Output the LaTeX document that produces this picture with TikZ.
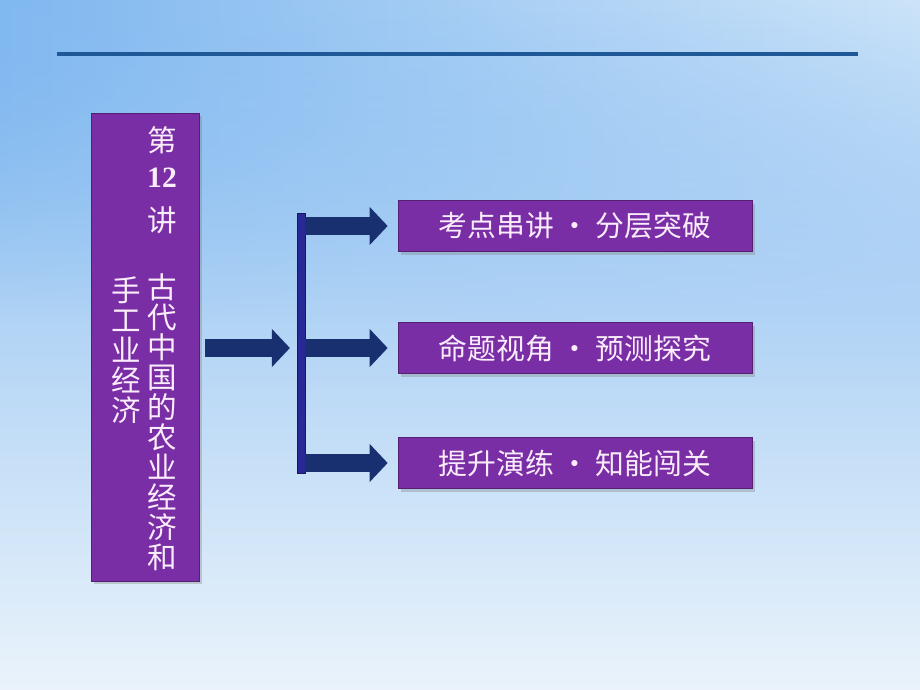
\documentclass[tikz,border=0pt]{standalone}
\usepackage{fontspec}
\usepackage{xcolor}
\usetikzlibrary{arrows.meta, positioning, shadows, fadings}
\newfontfamily\cjk{Noto Sans CJK SC}
\newfontfamily\numfont{Liberation Serif}
\definecolor{bgtop}{RGB}{128,184,240}
\definecolor{bgmid}{RGB}{205,228,249}
\definecolor{bgbot}{RGB}{234,243,251}
\definecolor{rulecol}{RGB}{30,88,150}
\definecolor{boxpurple}{RGB}{122,46,166}
\definecolor{boxtext}{RGB}{250,236,250}
\definecolor{arrownavy}{RGB}{24,48,112}
\definecolor{barblue}{RGB}{40,40,150}
\tikzstyle{titlebox} = [rectangle, minimum width=2.7cm, minimum height=11.7cm,
                        draw=boxpurple!70!black, fill=boxpurple, drop shadow={opacity=0.35}]
\tikzstyle{topicbox} = [rectangle, minimum width=8.85cm, minimum height=1.275cm,
                        draw=boxpurple!70!black, fill=boxpurple, text=boxtext,
                        font=\cjk\fontsize{20.5}{24}\selectfont, drop shadow={opacity=0.35}]
\tikzstyle{vtext}    = [text=boxtext, align=center, inner sep=0pt,
                        font=\cjk\fontsize{21}{21.3}\selectfont]
\tikzstyle{arrow}    = [-{Triangle[width=0.925cm, length=0.45cm]}, line width=0.45cm, arrownavy]

\begin{document}
\begin{tikzpicture}[x=0.025cm, y=-0.025cm]
    % Background
    \useasboundingbox (0,0) rectangle (920,690);
    \shade[top color=bgtop, middle color=bgmid, bottom color=bgbot] (0,0) rectangle (920,690);
    \shade[left color=bgtop, right color=bgmid, path fading=south] (0,0) rectangle (920,320);
    \draw[rulecol, line width=0.08cm] (57,54) -- (858,54);

    % Title box (left)
    \node (title) [titlebox] at (145,347) {};
    \node (lecture) [vtext] at (162,180) {第\\[4pt]{\numfont\bfseries 12}\\[10pt]讲};
    \node (topicA) [vtext] at (162,422) {古\\代\\中\\国\\的\\农\\业\\经\\济\\和};
    \node (topicB) [vtext] at (126,350) {手\\工\\业\\经\\济};

    % Branch bar
    \node (bar) [rectangle, minimum width=0.2cm, minimum height=6.5cm, inner sep=0pt,
                 fill=barblue, draw=barblue!60!black] at (301,343) {};

    % Topic boxes (right)
    \node (t1) [topicbox] at (575,226) {考点串讲 · 分层突破};
    \node (t2) [topicbox] at (575,348) {命题视角 · 预测探究};
    \node (t3) [topicbox] at (575,463) {提升演练 · 知能闯关};

    % Arrows
    \draw[arrow, shorten <=0.15cm, shorten >=0.17cm] (title.east |- t2) -- (bar.west |- t2);
    \draw[arrow, shorten >=0.25cm] (bar.east |- t1) -- (t1.west);
    \draw[arrow, shorten >=0.25cm] (bar.east |- t2) -- (t2.west);
    \draw[arrow, shorten >=0.25cm] (bar.east |- t3) -- (t3.west);
\end{tikzpicture}
\end{document}
